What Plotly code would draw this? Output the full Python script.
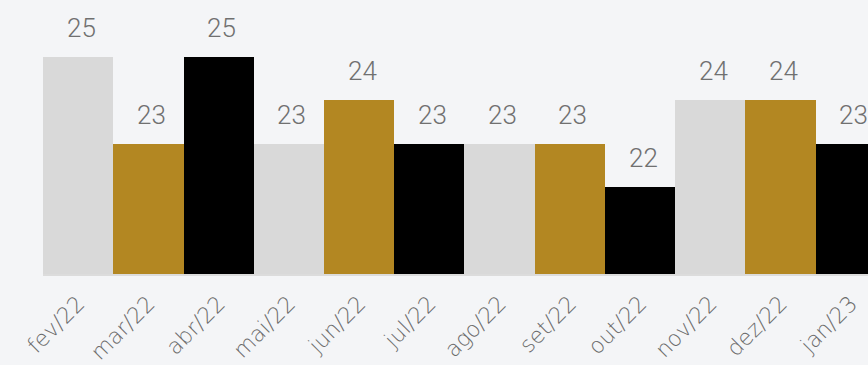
import plotly.graph_objects as go

months = ["fev/22", "mar/22", "abr/22", "mai/22", "jun/22", "jul/22",
          "ago/22", "set/22", "out/22", "nov/22", "dez/22", "jan/23"]
values = [25, 23, 25, 23, 24, 23, 23, 23, 22, 24, 24, 23]
palette = ["#d9d9d9", "#b38722", "#000000"]
colors = [palette[i % 3] for i in range(len(values))]

fig = go.Figure()
fig.add_trace(go.Bar(
    x=list(range(len(months))), y=values, marker=dict(color=colors, line=dict(width=0)),
    width=1.0, showlegend=False, hoverinfo="skip",
))
for i, v in enumerate(values):
    fig.add_annotation(x=i, y=v, text=str(v), showarrow=False, yanchor="bottom",
                       xshift=3, yshift=12,
                       font=dict(family="Roboto", size=26, color="#707070", weight=300))

bg = "#f4f5f7"
fig.update_layout(
    width=868, height=365, paper_bgcolor=bg, plot_bgcolor=bg,
    margin=dict(l=43, r=0, t=13, b=91),
    bargap=0,
    xaxis=dict(range=[-0.5, 11.244], tickmode="array", tickvals=list(range(len(months))),
               ticktext=months, tickangle=-45, showgrid=False, zeroline=False,
               showline=True, linecolor="#dcdcdc", linewidth=2, ticklabelstandoff=6,
               tickfont=dict(family="DejaVu Sans", size=22, color="#6b6b6b", weight=200)),
    yaxis=dict(range=[20, 26], visible=False, showgrid=False, zeroline=False),
)
fig.write_html("out.html")
